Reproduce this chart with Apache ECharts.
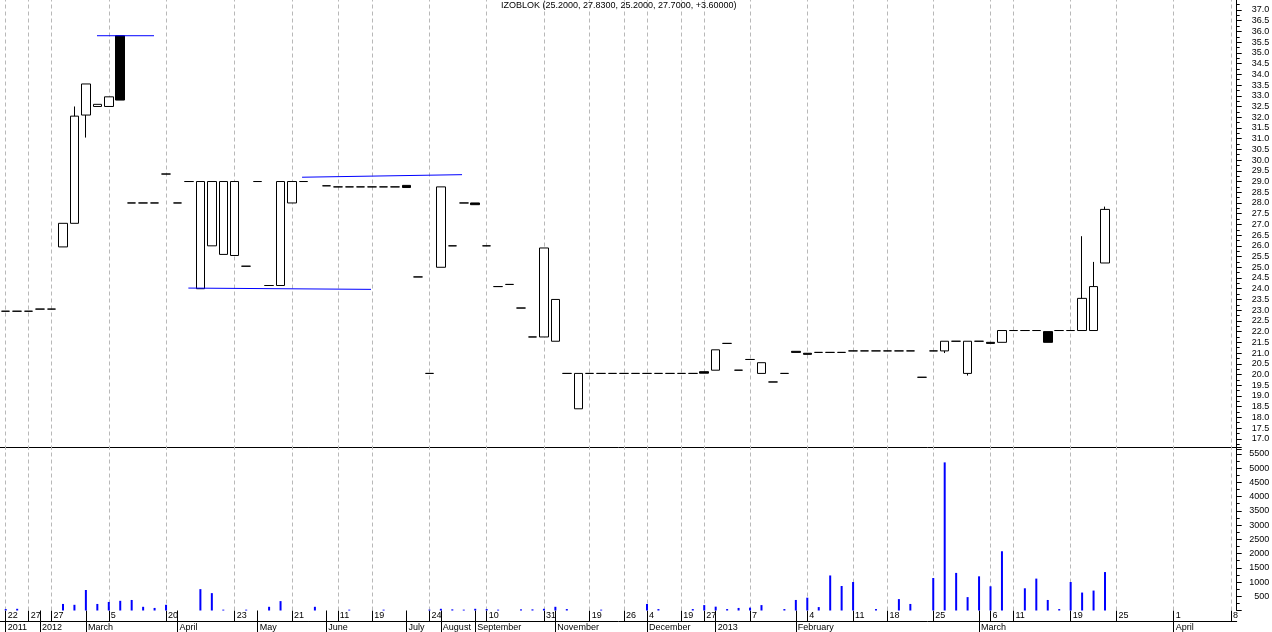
<!DOCTYPE html>
<html>
<head>
<meta charset="utf-8">
<script src="https://cdn.jsdelivr.net/npm/echarts/dist/echarts.min.js"></script>
<style>
html,body{margin:0;padding:0;background:#fff;}
#chart{width:1272px;height:632px;}
</style>
</head>
<body>
<div id="chart"></div>
<script>
// ---------- DATA ----------
const slotCount = 108; // trading-day slots on the axis (incl. empty future days)
const categories = Array.from({length: slotCount}, (_, i) => String(i));

const opens = [
  22.95,22.95,22.95,23.05,23.05,25.95,27.05,32.1,32.5,32.5,
  35.8,28.0,28.0,28.0,29.35,28.0,29.0,24.0,26.0,25.6,
  25.55,25.05,29.0,24.15,24.15,28.0,29.0,null,28.8,28.75,
  28.75,28.75,28.75,28.75,28.75,28.82,24.55,20.05,25.0,26.0,
  28.0,28.0,26.0,24.1,24.2,23.1,21.75,21.75,21.55,20.05,
  18.4,20.05,20.05,20.05,20.05,20.05,20.05,20.05,20.05,20.05,
  20.05,20.13,20.2,21.45,20.2,20.7,20.05,19.65,20.05,21.08,
  20.99,21.03,21.03,21.03,21.1,21.1,21.1,21.1,21.1,21.1,
  19.87,21.1,21.1,21.55,20.05,21.55,21.5,21.5,22.05,22.05,
  22.05,22.0,22.05,22.05,22.05,22.05,25.2
];
const closes = [
  22.95,22.95,22.95,23.05,23.05,27.05,32.05,33.55,32.6,32.95,
  32.8,28.0,28.0,28.0,29.35,28.0,29.0,29.0,29.0,29.0,
  29.0,25.05,29.0,24.15,29.0,29.0,29.0,null,28.8,28.75,
  28.75,28.75,28.75,28.75,28.75,28.72,24.55,20.05,28.75,26.0,
  28.0,27.92,26.0,24.1,24.2,23.1,21.75,25.9,23.5,20.05,
  20.05,20.05,20.05,20.05,20.05,20.05,20.05,20.05,20.05,20.05,
  20.05,20.06,21.15,21.45,20.2,20.7,20.55,19.65,20.05,21.03,
  20.94,21.03,21.03,21.03,21.1,21.1,21.1,21.1,21.1,21.1,
  19.87,21.1,21.55,21.55,21.55,21.55,21.45,22.05,22.05,22.05,
  22.05,21.5,22.05,22.05,23.55,24.1,27.7
];
// wicks that reach beyond the body
const wickHighs = {6: 32.5, 94: 26.45, 95: 25.25, 96: 27.83};
const wickLows  = {7: 31.05, 82: 21.0, 84: 19.95};

const volumes = [
  50,60,0,0,0,230,200,720,230,300,
  340,370,130,90,200,0,0,750,610,30,
  0,30,0,130,330,0,0,130,0,0,
  30,0,0,30,0,0,0,30,60,40,
  30,60,50,30,0,40,40,60,130,50,
  0,0,30,0,0,0,230,50,0,0,
  50,190,135,50,90,100,190,0,50,370,
  450,120,1230,860,1000,0,50,0,400,230,
  0,1140,5200,1320,470,1200,850,2080,0,780,
  1120,370,50,1000,630,700,1350
];

const dayTickIdx  = [0,2,4,9,14,20,25,29,32,37,42,47,51,54,56,59,61,65,70,74,77,81,86,88,93,97,102,107];
const dayTickText = ['22','27','27','5','20','23','21','11','19','24','10','31','19','26','4','19','27','7','4','11','18','25','6','11','19','25','1','8'];
const monthTickIdx  = [0,3,7,15,22,28,35,38,41,48,56,62,69,85,102];
const monthTickText = ['2011','2012','March','April','May','June','July','August','September','November','December','2013','February','March','April'];

// user-drawn trend lines: [slot position, price]
const trendLines = [
  [[7.97, 35.8], [12.95, 35.8]],
  [[15.95, 24.03], [31.9, 23.97]],
  [[25.88, 29.2], [39.85, 29.32]]
];

const titleText = 'IZOBLOK (25.2000, 27.8300, 25.2000, 27.7000, +3.60000)';

// ---------- BUILD ----------
const FONT = "'Liberation Sans', Arial, sans-serif";
const candleData = categories.map((_, i) => {
  const o = opens[i], c = closes[i];
  if (o == null || c == null) return ['-', '-', '-', '-'];
  const lo = wickLows[i] != null ? wickLows[i] : Math.min(o, c);
  const hi = wickHighs[i] != null ? wickHighs[i] : Math.max(o, c);
  return [o, c, lo, hi];
});
const volData = categories.map((_, i) => (volumes[i] ? volumes[i] : '-'));
const dayTickSet = new Set(dayTickIdx.concat(monthTickIdx));

const plotW = 1236.7;
const gridLineMarks = dayTickIdx.map(i => ({xAxis: i}));
const dashStyle = {color: '#b8b8b8', type: [4, 3], width: 1};

const chart = echarts.init(document.getElementById('chart'), null, {renderer: 'canvas'});
chart.setOption({
  animation: false,
  backgroundColor: '#fff',
  title: {
    text: titleText, left: 501, top: 1, padding: 0,
    textStyle: {fontSize: 9, fontWeight: 'normal', color: '#000', fontFamily: FONT}
  },
  grid: [
    {left: 0, width: plotW, top: -0.72, height: 450.24, containLabel: false, outerBoundsMode: 'none'},
    {left: 0, width: plotW, top: 447, height: 163.5, containLabel: false, outerBoundsMode: 'none'}
  ],
  xAxis: [
    {type: 'category', gridIndex: 0, data: categories, boundaryGap: true, show: false, axisLine: {onZero: false}},
    {type: 'value', gridIndex: 0, min: -0.5, max: slotCount - 0.5, show: false, axisLine: {onZero: false}},
    { // day row
      type: 'category', gridIndex: 1, data: categories, boundaryGap: true, position: 'bottom',
      axisLine: {show: false, onZero: false},
      axisTick: {show: true, alignWithLabel: true, length: 11, inside: false,
        interval: (idx) => dayTickSet.has(idx), lineStyle: {color: '#000', width: 1}},
      axisLabel: {show: true, interval: (idx) => dayTickIdx.indexOf(idx) >= 0,
        formatter: (v) => { const k = dayTickIdx.indexOf(Number(v)); return k >= 0 ? dayTickText[k] : ''; },
        align: 'left', padding: [0, 0, 0, 2], margin: 0, fontSize: 9, lineHeight: 10,
        color: '#000', fontFamily: FONT},
      splitLine: {show: false}
    },
    { // month row
      type: 'category', gridIndex: 1, data: categories, boundaryGap: true, position: 'bottom', offset: 11,
      axisLine: {show: true, onZero: false, lineStyle: {color: '#000', width: 1}},
      axisTick: {show: true, alignWithLabel: true, length: 11, inside: false,
        interval: (idx) => monthTickIdx.indexOf(idx) >= 0, lineStyle: {color: '#000', width: 1}},
      axisLabel: {show: true, interval: (idx) => monthTickIdx.indexOf(idx) >= 0,
        formatter: (v) => { const k = monthTickIdx.indexOf(Number(v)); return k >= 0 ? monthTickText[k] : ''; },
        align: 'left', padding: [0, 0, 0, 2], margin: 1, fontSize: 9, lineHeight: 10,
        color: '#000', fontFamily: FONT},
      splitLine: {show: false}
    },
    { // separator line between panels
      type: 'category', gridIndex: 1, data: categories, position: 'top',
      axisLine: {show: true, onZero: false, lineStyle: {color: '#000', width: 1}},
      axisTick: {show: false}, axisLabel: {show: false}, splitLine: {show: false}
    },
    {type: 'value', gridIndex: 1, min: -0.5, max: slotCount - 0.5, show: false, axisLine: {onZero: false}}
  ],
  yAxis: [
    {
      type: 'value', gridIndex: 0, position: 'right', min: 16.5, max: 37.5, interval: 0.5,
      axisLine: {show: true, onZero: false, lineStyle: {color: '#000', width: 1}},
      axisTick: {show: true, length: 5, inside: false, lineStyle: {color: '#000'}},
      minorTick: {show: true, splitNumber: 2, length: 3, lineStyle: {color: '#000'}},
      axisLabel: {show: true, margin: 32.5, align: 'right', fontSize: 9, color: '#000', fontFamily: FONT,
        formatter: (v) => (v >= 16.99 && v <= 37.01 ? v.toFixed(1) : '')},
      splitLine: {show: false}, minorSplitLine: {show: false}
    },
    {
      type: 'value', gridIndex: 1, position: 'right', min: 0, max: 5740, interval: 500,
      axisLine: {show: true, onZero: false, lineStyle: {color: '#000', width: 1}},
      axisTick: {show: true, length: 5, inside: false, lineStyle: {color: '#000'}},
      minorTick: {show: true, splitNumber: 2, length: 3, lineStyle: {color: '#000'}},
      axisLabel: {show: true, margin: 32.5, align: 'right', fontSize: 9, color: '#000', fontFamily: FONT,
        formatter: (v) => (v > 0 && v <= 5500 && v % 500 === 0 ? String(v) : '')},
      splitLine: {show: false}, minorSplitLine: {show: false}
    }
  ],
  series: [
    { // vertical dashed grid lines, price panel
      type: 'line', xAxisIndex: 1, yAxisIndex: 0, data: [], z: 1, silent: true,
      markLine: {silent: true, z: 1, symbol: 'none', label: {show: false}, lineStyle: dashStyle,
        emphasis: {disabled: true}, animation: false, data: gridLineMarks}
    },
    { // vertical dashed grid lines, volume panel
      type: 'line', xAxisIndex: 5, yAxisIndex: 1, data: [], z: 1, silent: true,
      markLine: {silent: true, z: 1, symbol: 'none', label: {show: false}, lineStyle: dashStyle,
        emphasis: {disabled: true}, animation: false, data: gridLineMarks}
    },
    {
      type: 'candlestick', xAxisIndex: 0, yAxisIndex: 0, data: candleData, barWidth: 9, z: 3,
      itemStyle: {color: '#ffffff', color0: '#000000', borderColor: '#000000', borderColor0: '#000000',
        borderColorDoji: '#000000', borderWidth: 1},
      emphasis: {disabled: true}
    },
    ...trendLines.map(seg => ({
      type: 'line', xAxisIndex: 1, yAxisIndex: 0, data: seg, symbol: 'none', z: 4, silent: true,
      lineStyle: {color: '#0000ff', width: 1}
    })),
    {
      type: 'bar', xAxisIndex: 2, yAxisIndex: 1, data: volData, barWidth: 2, z: 3,
      itemStyle: {color: '#0000ff'}, emphasis: {disabled: true}
    }
  ]
});
</script>
</body>
</html>
